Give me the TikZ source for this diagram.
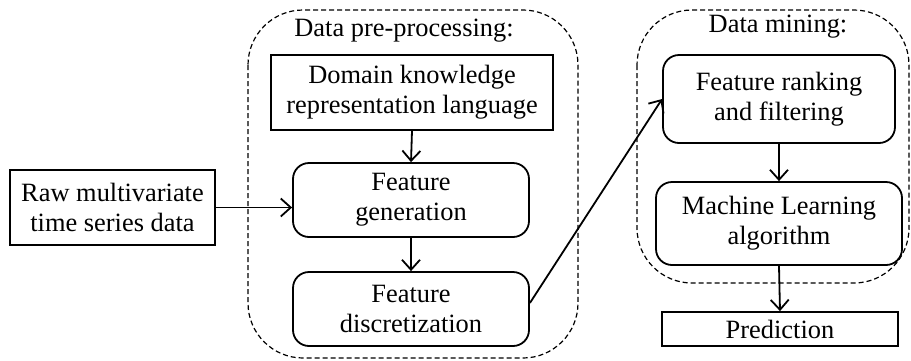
\documentclass[tikz,border=0pt]{standalone}
\usepackage{fontspec}
\setmainfont{Liberation Serif}
\usetikzlibrary{arrows.meta}
\begin{document}
\begin{tikzpicture}[x=1pt,y=-1pt,
  every node/.style={font=\fontsize{26.4}{30}\selectfont, align=center, inner sep=0pt},
  plainbox/.style={draw, line width=1.8pt, rectangle},
  roundbox/.style={draw, line width=1.8pt, rounded corners=16pt},
  group/.style={draw, line width=1.2pt, dash pattern=on 5pt off 3pt, rounded corners=55pt},
  flow/.style={line width=1.8pt, -{Straight Barb[length=10pt,width=18pt,line width=1.8pt]}}]
\useasboundingbox (0,0) rectangle (911,360);

% dashed group frames
\draw[group] (248,10) rectangle (578,358);
\draw[group] (637,10) rectangle (909,283);
\node at (404,31) {Data pre-processing:};
\node at (778,27) {Data mining:};

% process steps
\node[plainbox, minimum width=205pt, minimum height=75pt] (raw) at (112.5,207.5) {Raw multivariate\\time series data};
\node[plainbox, minimum width=282pt, minimum height=75pt] (dom) at (412,92.5) {Domain knowledge\\representation language};
\node[roundbox, minimum width=236pt, minimum height=74pt] (gen) at (411,200) {Feature\\generation};
\node[roundbox, minimum width=236pt, minimum height=74pt] (disc) at (411,309) {Feature\\discretization};
\node[roundbox, minimum width=232pt, minimum height=88pt] (rank) at (779,99) {Feature ranking\\and filtering};
\node[roundbox, minimum width=246pt, minimum height=83pt] (ml) at (779,223.5) {Machine Learning\\algorithm};
\node[plainbox, minimum width=236pt, minimum height=34pt] (pred) at (780,329) {Prediction};

% connectors
\draw[flow] (dom.south) -- (gen.north);
\draw[flow] (raw.east) -- (raw.east -| gen.west);
\draw[flow] (gen.south) -- (disc.north);
\draw[flow] ([yshift=6pt]disc.east) -- (rank.west);
\draw[flow] (rank.south) -- (ml.north);
\draw[flow] (ml.south) -- (pred.north);
\end{tikzpicture}
\end{document}
